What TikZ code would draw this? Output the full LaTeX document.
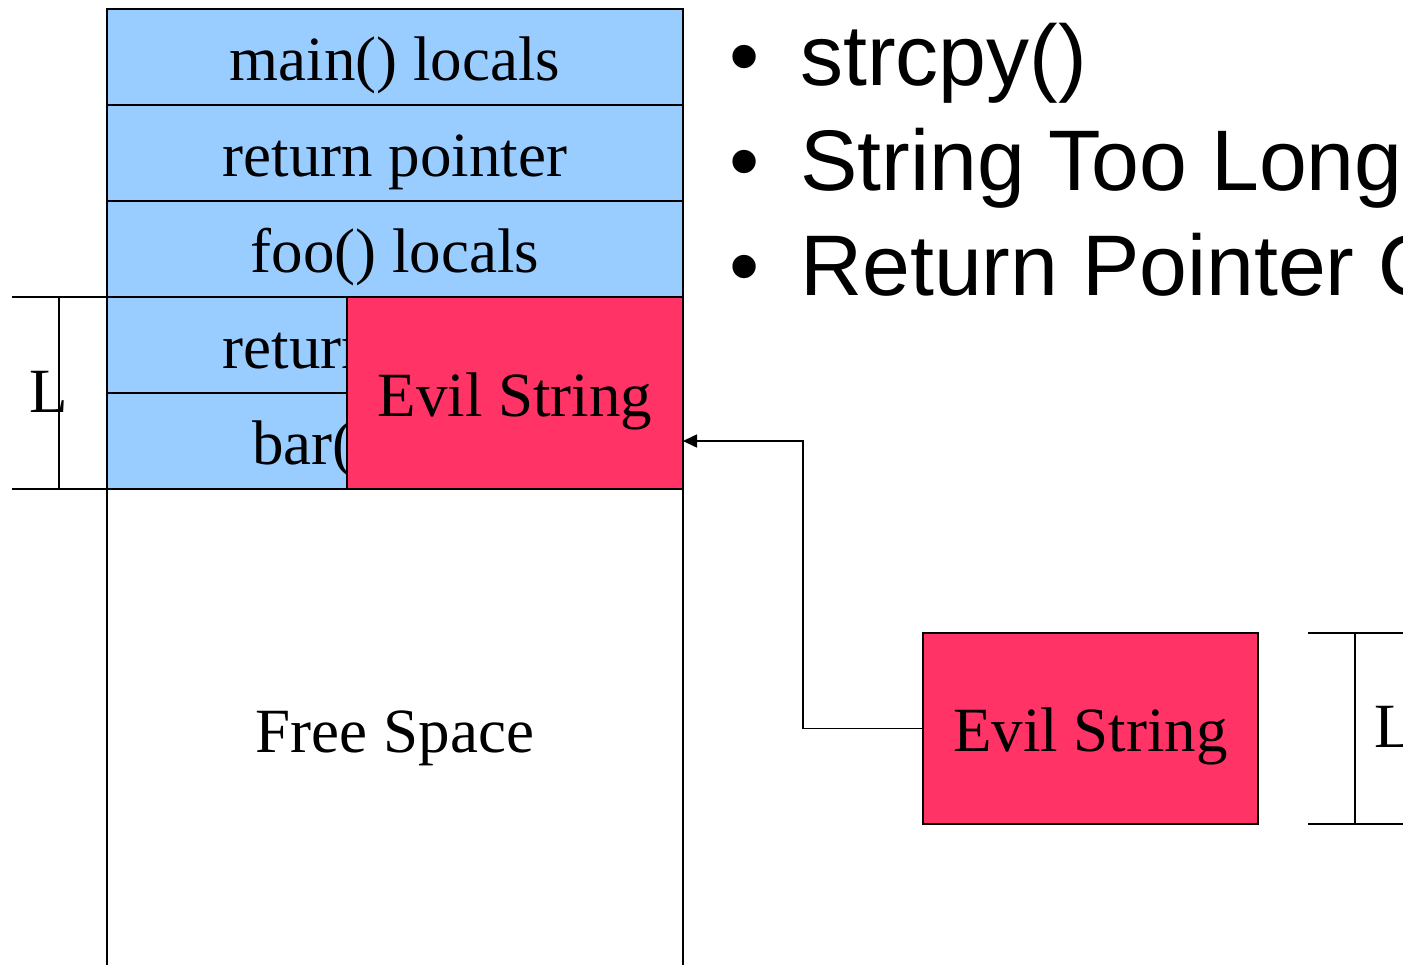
\documentclass[tikz,border=0pt]{standalone}
\usepackage{fontspec}
\setmainfont{Liberation Serif}
\newfontfamily\bulletfont{Liberation Sans}
\usetikzlibrary{arrows.meta}
\definecolor{stackblue}{RGB}{153,204,255}
\definecolor{evilred}{RGB}{255,51,102}
\tikzset{
  frame/.style={draw=black, line width=1.6pt, inner sep=0pt, outer sep=0pt,
    font=\fontsize{63}{70}\selectfont, text height=66pt, text depth=20pt},
  cell/.style={frame, fill=stackblue, minimum width=576pt, minimum height=96pt},
  evil/.style={frame, fill=evilred},
  marker/.style={draw=black, line width=1.3pt},
  marklabel/.style={font=\fontsize{63}{70}\selectfont, inner sep=0pt, anchor=base west},
  bullettext/.style={font=\bulletfont\fontsize{86}{96}\selectfont, inner sep=0pt, anchor=base west},
  conn/.style={draw=black, line width=1.6pt, -{Triangle[length=14pt,width=13pt]}}
}
\begin{document}
\begin{tikzpicture}[x=1pt,y=-1pt]
\useasboundingbox (0,0) rectangle (1403,964);
\clip (0,0) rectangle (1403,964);

% stack frames
\node[cell] (mainloc) at (395,57) {main() locals};
\node[cell] (ret1) at (395,153) {return pointer};
\node[cell] (fooloc) at (395,249) {foo() locals};
\node[cell] (ret2) at (395,345) {return pointer};
\node[cell] (barloc) at (395,441) {bar() locals};
\node[frame, fill=white, minimum width=576pt, minimum height=480pt] (free) at (395,729) {Free Space};

% overflowing string written over bar()'s frame
\node[evil, minimum width=336pt, minimum height=192pt] (evil1) at (515,393) {Evil String};

% incoming string
\node[evil, minimum width=335pt, minimum height=191pt] (evil2) at (1090.5,728.5) {Evil String};

% length marker beside the stack
\coordinate (lt) at (12,297);
\coordinate (lb) at (12,489);
\draw[marker] (lt) -- (ret2.north west);
\draw[marker] (lb) -- (barloc.south west);
\draw[marker] (59,297) -- (59,489);
\node[marklabel] (lleft) at (29,412) {L};

% length marker beside the incoming string
\coordinate (rt) at (1308,633);
\coordinate (rb) at (1308,824);
\draw[marker] (rt) -- ++(120,0);
\draw[marker] (rb) -- ++(120,0);
\draw[marker] (1355,633) -- (1355,824);
\node[marklabel] (lright) at (1374,747) {L};

% copy arrow
\draw[conn] (evil2.west) -- ++(-120,0) |- ([yshift=-48pt]evil1.east);

% bullet list
\node[bullettext] (b1) at (729,85) {•};
\node[bullettext] (t1) at (800,85) {strcpy()};
\node[bullettext] (b2) at (729,190) {•};
\node[bullettext] (t2) at (800,190) {String Too Long};
\node[bullettext] (b3) at (729,295) {•};
\node[bullettext] (t3) at (800,295) {Return Pointer Overwritten};
\end{tikzpicture}
\end{document}
